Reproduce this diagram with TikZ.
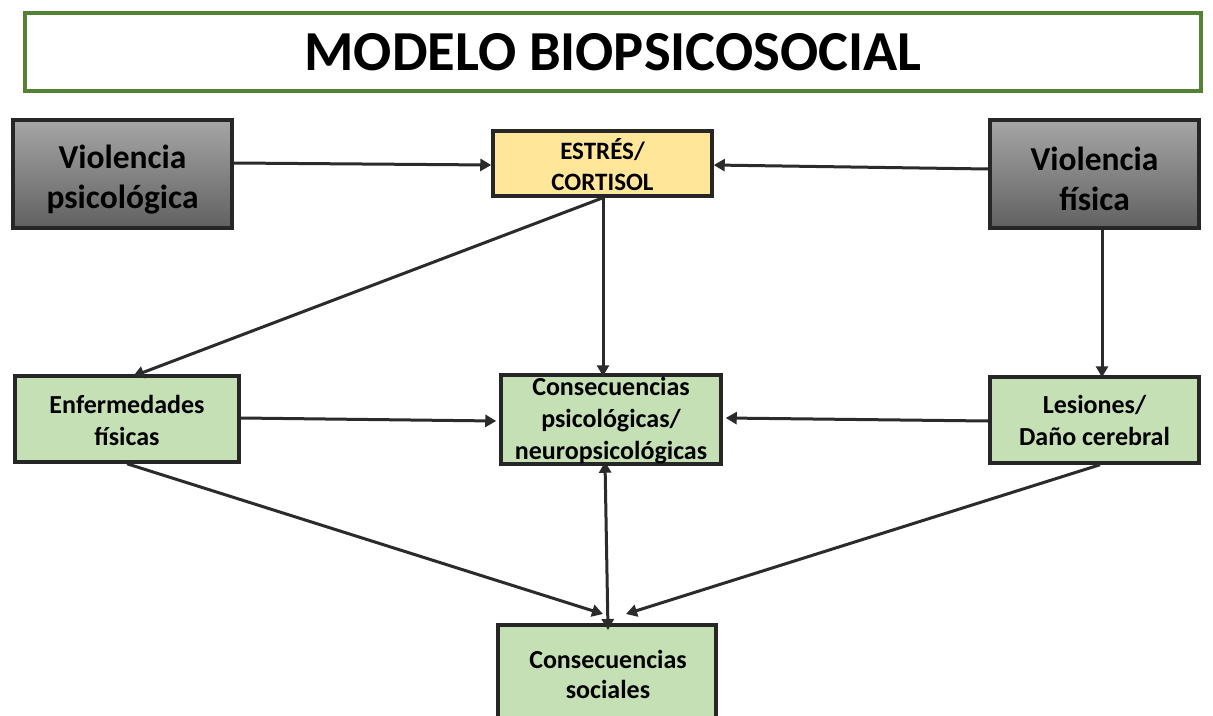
\documentclass[tikz,border=0pt]{standalone}
\usepackage{fontspec}
\setmainfont{Carlito}
\usetikzlibrary{arrows.meta}
\definecolor{titlegreen}{HTML}{548235}
\definecolor{boxgreen}{HTML}{C5E0B4}
\definecolor{boxyellow}{HTML}{FFE699}
\definecolor{edgedark}{HTML}{262626}
\definecolor{arrowdark}{HTML}{2B2B2B}
\tikzset{
  box/.style={draw=edgedark, line width=3.5pt, inner sep=0pt},
  graybox/.style={box, top color=black!35, bottom color=black!62, minimum width=219pt, minimum height=108pt},
  greenbox/.style={box, fill=boxgreen},
  lbl/.style={align=center, inner sep=0pt, font=\bfseries\fontsize{26}{32}\selectfont},
  graylbl/.style={lbl, font=\bfseries\fontsize{33.5}{40}\selectfont},
  arr/.style={draw=arrowdark, line width=3pt, -{Triangle[width=12pt,length=11pt]}},
  darr/.style={draw=arrowdark, line width=3pt, {Triangle[width=12pt,length=11pt]}-{Triangle[width=12pt,length=11pt]}}
}
\begin{document}
\begin{tikzpicture}[x=1pt,y=-1pt]
\useasboundingbox (0,0) rectangle (1213,715);
\fill[white] (0,0) rectangle (1213,715);
% title
\node[draw=titlegreen, line width=3.5pt, minimum width=1176pt, minimum height=78pt, inner sep=0pt, font=\bfseries\fontsize{56.5}{60}\selectfont] (title) at (613,52) {MODELO BIOPSICOSOCIAL};
% top row
\node[graybox] (vp) at (122.5,174) {};
\node[graylbl] (vpt) at ([yshift=-6pt]vp.center) {Violencia\\psicológica};
\node[graybox, minimum width=209pt] (vf) at (1094.5,174) {};
\node[graylbl] (vft) at ([yshift=-5pt]vf.center) {Violencia\\física};
\node[box, fill=boxyellow, minimum width=219pt, minimum height=65pt] (es) at (602.5,163.5) {};
\node[lbl, font=\bfseries\fontsize{25}{31}\selectfont] (est) at ([yshift=-1.5pt]es.center) {ESTRÉS/\\CORTISOL};
% middle row
\node[greenbox, minimum width=224pt, minimum height=86pt] (ef) at (127,419) {};
\node[lbl] (eft) at ([yshift=-1pt]ef.center) {Enfermedades\\físicas};
\node[greenbox, minimum width=220pt, minimum height=89pt] (cp) at (611,419.5) {};
\node[lbl] (cpt) at ([yshift=-1.5pt]cp.center) {Consecuencias\\psicológicas/\\neuropsicológicas};
\node[greenbox, minimum width=209pt, minimum height=86pt] (le) at (1094.5,420) {};
\node[lbl] (let) at (le.center) {Lesiones/\\Daño cerebral};
% bottom
\node[greenbox, minimum width=218pt, minimum height=110pt, anchor=north] (cs) at (607,623) {};
\node[lbl, font=\bfseries\fontsize{26}{30}\selectfont] (cst) at (608,674) {Consecuencias\\sociales};
% arrows
\draw[arr] (vp.east |- 0,163) -- (es.west |- 0,165);
\draw[arr] (vf.west |- 0,169) -- (es.east |- 0,165);
\draw[arr] (es.south -| 603,0) -- ([yshift=-3pt]cp.north -| 603,0);
\draw[arr] (es.south -| 603,0) -- ([yshift=-2pt]ef.north -| 133,0);
\draw[arr] (vf.south -| 1102,0) -- ([yshift=-2pt]le.north -| 1102,0);
\draw[arr] (ef.east |- 0,418) -- ([xshift=-3pt]cp.west |- 0,421);
\draw[arr] (le.west |- 0,421) -- ([xshift=3pt]cp.east |- 0,418);
\draw[darr] ([yshift=4pt]cp.south -| 605,0) -- ([yshift=-7pt]cs.north -| 608,0);
\coordinate (csl) at (603,614);
\coordinate (csr) at (626,614);
\draw[arr] (ef.south -| 127,0) -- (csl);
\draw[arr] (le.south -| 1100,0) -- (csr);
\end{tikzpicture}
\end{document}
